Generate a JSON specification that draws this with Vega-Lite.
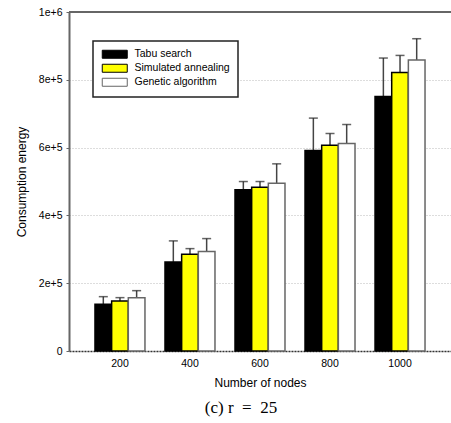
{
  "$schema": "https://vega.github.io/schema/vega-lite/v6.json",
  "width": 382,
  "height": 339,
  "autosize": "none",
  "padding": {"left": 69, "top": 12, "right": 0, "bottom": 72},
  "background": "white",
  "config": {
    "view": {"stroke": null},
    "font": "Liberation Sans",
    "legend": {"strokeWidth": 1.5}
  },
  "title": {
    "text": "(c) r\u00a0\u00a0=\u00a0\u00a025",
    "orient": "bottom",
    "anchor": "middle",
    "font": "Liberation Serif",
    "fontSize": 17,
    "fontWeight": "normal",
    "color": "black",
    "dx": -19,
    "offset": 11
  },
  "data": {
    "values": [
      {"nodes": "200", "algo": "Tabu search", "value": 138000, "upper": 160300},
      {"nodes": "200", "algo": "Simulated annealing", "value": 147600, "upper": 157400},
      {"nodes": "200", "algo": "Genetic algorithm", "value": 157400, "upper": 178000},
      {"nodes": "400", "algo": "Tabu search", "value": 262800, "upper": 324800},
      {"nodes": "400", "algo": "Simulated annealing", "value": 285500, "upper": 302000},
      {"nodes": "400", "algo": "Genetic algorithm", "value": 293200, "upper": 331600},
      {"nodes": "600", "algo": "Tabu search", "value": 475300, "upper": 499900},
      {"nodes": "600", "algo": "Simulated annealing", "value": 483300, "upper": 499900},
      {"nodes": "600", "algo": "Genetic algorithm", "value": 495100, "upper": 552100},
      {"nodes": "800", "algo": "Tabu search", "value": 591400, "upper": 687000},
      {"nodes": "800", "algo": "Simulated annealing", "value": 607300, "upper": 641600},
      {"nodes": "800", "algo": "Genetic algorithm", "value": 612000, "upper": 668100},
      {"nodes": "1000", "algo": "Tabu search", "value": 750800, "upper": 864200},
      {"nodes": "1000", "algo": "Simulated annealing", "value": 821700, "upper": 871900},
      {"nodes": "1000", "algo": "Genetic algorithm", "value": 858300, "upper": 921200}
    ]
  },
  "encoding": {
    "x": {
      "field": "nodes",
      "type": "ordinal",
      "sort": ["200", "400", "600", "800", "1000"],
      "scale": {"paddingInner": 0.286, "paddingOuter": 0.371},
      "axis": {
        "title": "Number of nodes",
        "titleFontSize": 12,
        "titleFontWeight": "normal",
        "titleColor": "black",
        "titlePadding": 9,
        "labelAngle": 0,
        "labelFontSize": 10.5,
        "labelColor": "black",
        "labelPadding": 7,
        "ticks": false,
        "domainColor": "#333",
        "domainWidth": 1.5,
        "domainDash": [2, 1],
        "grid": false
      }
    },
    "xOffset": {
      "field": "algo",
      "sort": ["Tabu search", "Simulated annealing", "Genetic algorithm"],
      "scale": {"paddingInner": 0, "paddingOuter": 0}
    },
    "y": {
      "field": "value",
      "type": "quantitative",
      "scale": {"domain": [0, 1000000], "nice": false},
      "axis": {
        "title": "Consumption energy",
        "titleFontSize": 12,
        "titleFontWeight": "normal",
        "titleColor": "black",
        "titlePadding": 10,
        "values": [0, 200000, 400000, 600000, 800000, 1000000],
        "labelExpr": "datum.value == 0 ? '0' : format(datum.value, '.0e')",
        "labelFontSize": 10.5,
        "labelColor": "black",
        "labelPadding": 4,
        "tickSize": 3,
        "tickColor": "#666",
        "domainColor": "#666",
        "domainWidth": 2,
        "grid": true,
        "gridColor": "#bbb",
        "gridDash": [1, 2]
      }
    }
  },
  "layer": [
    {
      "mark": {"type": "rule", "color": "#666", "strokeWidth": 2},
      "encoding": {"y": {"datum": 1000000}, "x": null, "xOffset": null}
    },
    {
      "mark": {"type": "rule", "color": "#444", "strokeWidth": 1.5},
      "encoding": {
        "y": {"field": "value", "type": "quantitative"},
        "y2": {"field": "upper"}
      }
    },
    {
      "mark": {"type": "tick", "color": "#222", "thickness": 1.5, "size": 9},
      "encoding": {
        "y": {"field": "upper", "type": "quantitative"}
      }
    },
    {
      "mark": {"type": "bar", "strokeWidth": 1.5},
      "encoding": {
        "fill": {
          "field": "algo",
          "type": "nominal",
          "sort": ["Tabu search", "Simulated annealing", "Genetic algorithm"],
          "scale": {
            "domain": ["Tabu search", "Simulated annealing", "Genetic algorithm"],
            "range": ["#000000", "#ffff00", "#ffffff"]
          },
          "legend": {
            "title": null,
            "orient": "none",
            "legendX": 24,
            "legendY": 29,
            "padding": 8,
            "strokeColor": "#222",
            "fillColor": "white",
            "symbolType": "M-1,-1H5.25V1H-1Z",
            "symbolSize": 64,
            "symbolStrokeWidth": 1,
            "labelOffset": 23,
            "labelFontSize": 10.5,
            "labelColor": "black",
            "rowPadding": 1,
            "labelLimit": 200
          }
        },
        "stroke": {
          "field": "algo",
          "type": "nominal",
          "scale": {
            "domain": ["Tabu search", "Simulated annealing", "Genetic algorithm"],
            "range": ["#000000", "#000000", "#666666"]
          }
        }
      }
    }
  ]
}
